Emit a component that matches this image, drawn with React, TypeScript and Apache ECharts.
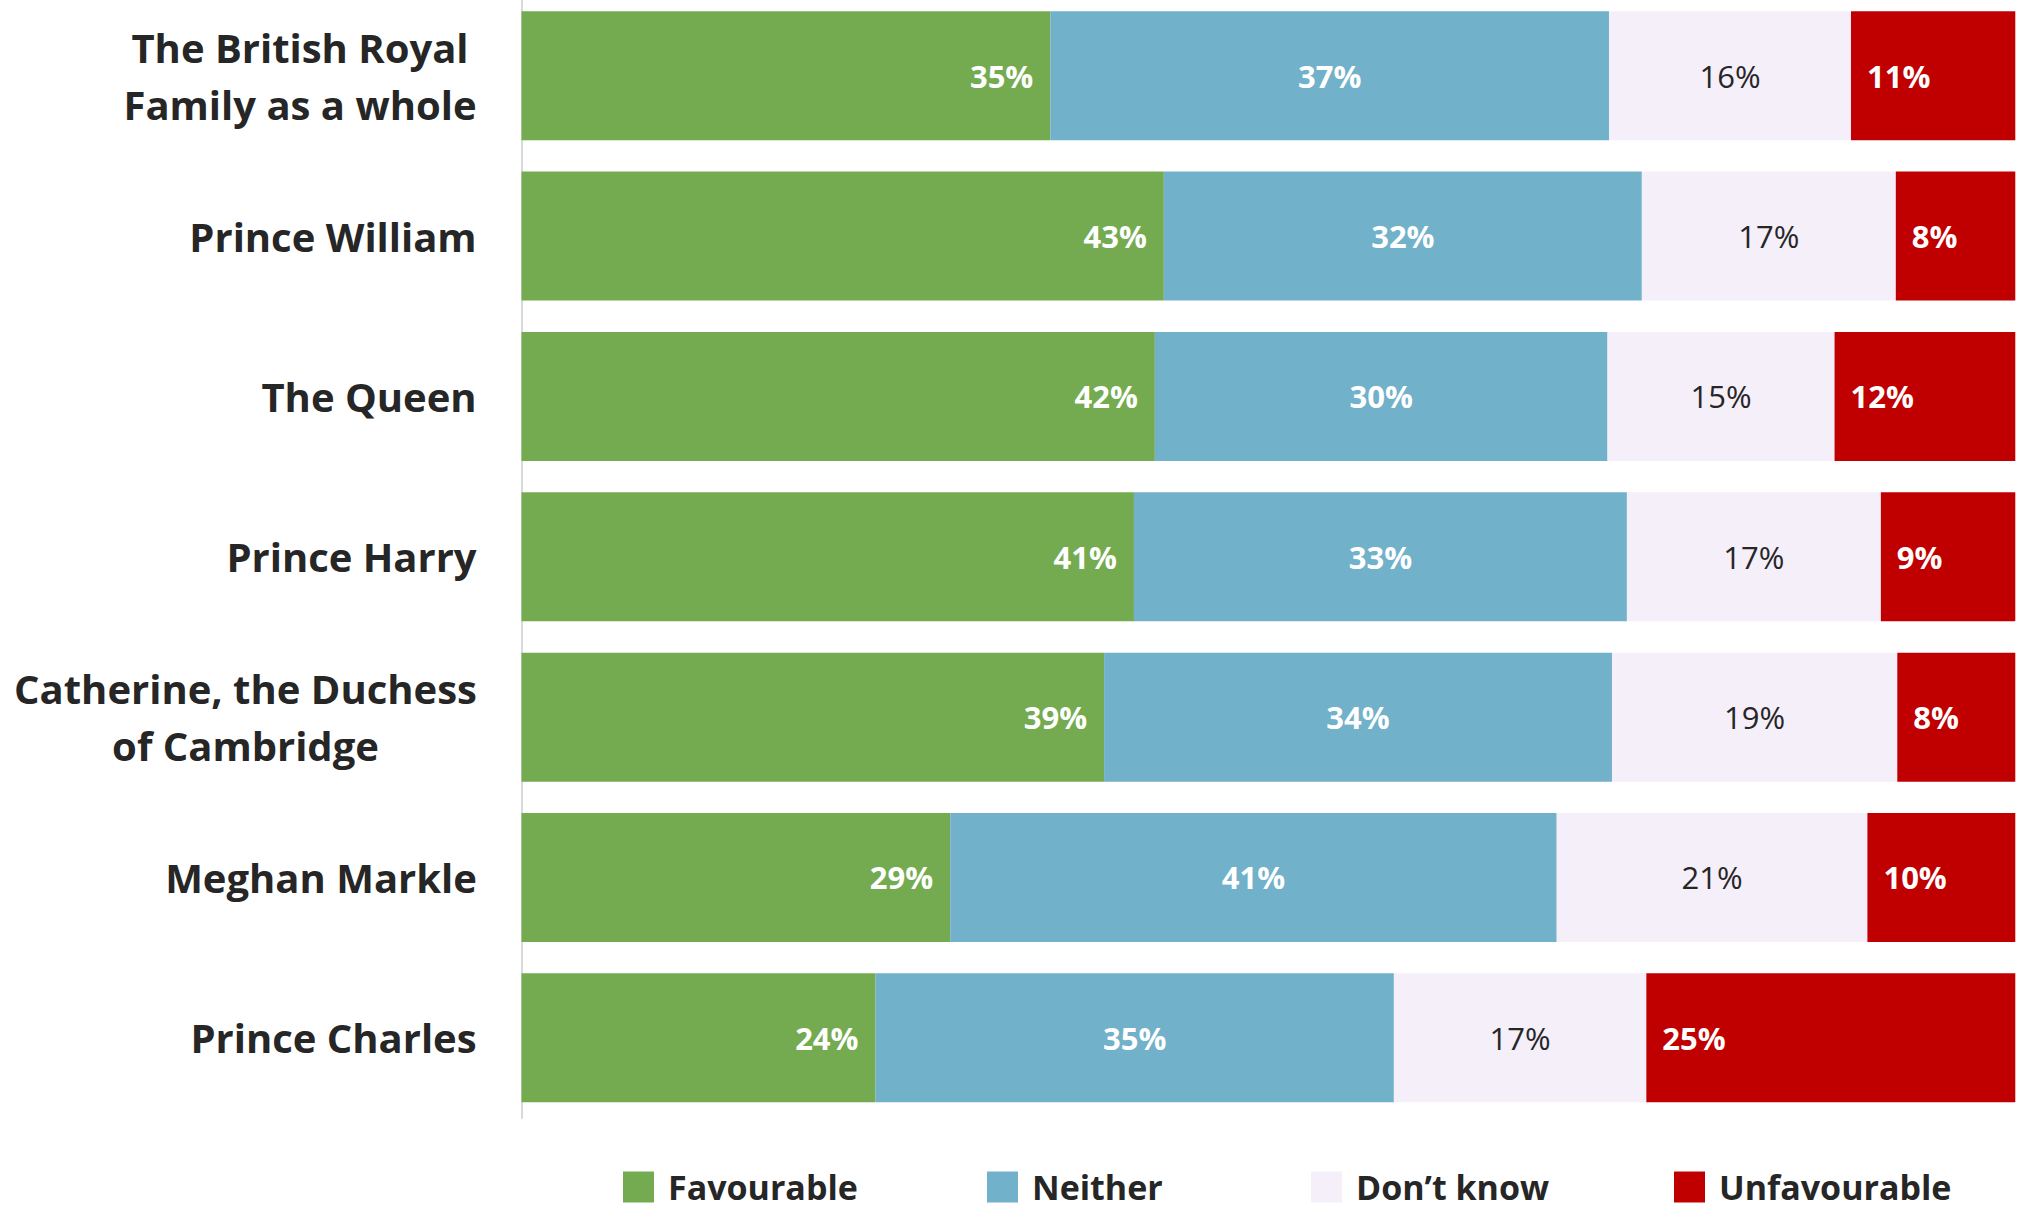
import React, { useEffect, useRef } from "react";
import * as echarts from "echarts";

const categories = [
  "The British Royal\nFamily as a whole",
  "Prince William",
  "The Queen",
  "Prince Harry",
  "Catherine, the Duchess\nof Cambridge",
  "Meghan Markle",
  "Prince Charles",
];
const seriesNames = ["Favourable", "Neither", "Don\u2019t know", "Unfavourable"];
const favourable = [35.4, 43.0, 42.4, 41.0, 39.0, 28.7, 23.7];
const neither = [37.4, 32.0, 30.3, 33.0, 34.0, 40.6, 34.7];
const dontKnow = [16.2, 17.0, 15.2, 17.0, 19.1, 20.8, 16.9];
const unfavourable = [11.0, 8.0, 12.1, 9.0, 7.9, 9.9, 24.7];

const FONT = '"Open Sans", "Noto Sans", sans-serif';
const DARK = "#262626";
const CAT_SIZE = 40;

export default function App() {
  const ref = useRef<HTMLDivElement>(null);
  useEffect(() => {
    document.body.style.margin = "0";
    document.body.style.overflow = "hidden";
    if (!ref.current) return;
    const chart = echarts.init(ref.current, undefined, { renderer: "svg" });

    // measure widest line of each category label to centre lines inside the block
    const canvas = document.createElement("canvas");
    const ctx = canvas.getContext("2d")!;
    ctx.font = `bold ${CAT_SIZE}px ${FONT}`;
    const rich: Record<string, any> = {};
    categories.forEach((c, i) => {
      const w = Math.max(...c.split("\n").map((l) => ctx.measureText(l).width));
      rich["l" + i] = {
        width: Math.ceil(w) + 1,
        align: "center",
        fontSize: CAT_SIZE,
        fontWeight: "bold",
        fontFamily: FONT,
        color: DARK,
        lineHeight: 57,
      };
    });

    const colors = ["#75AB50", "#71B1C9", "#F5EFFA", "#C00000"];
    const dataArr = [favourable, neither, dontKnow, unfavourable];
    const labelCfg = [
      { position: "insideRight", distance: 17, color: "#ffffff", fontWeight: "bold" },
      { position: "inside", color: "#ffffff", fontWeight: "bold" },
      { position: "inside", color: DARK, fontWeight: "normal" },
      { position: "insideLeft", distance: 16, color: "#ffffff", fontWeight: "bold" },
    ];
    const legendLeft = [623, 987, 1311, 1674];

    chart.setOption({
      animation: false,
      grid: {
        left: 521.5,
        right: 12.7,
        top: -4.4,
        height: 1122.4,
        outerBoundsMode: "none",
      },
      xAxis: { type: "value", min: 0, max: 100, show: false },
      yAxis: {
        type: "category",
        data: categories,
        inverse: true,
        axisTick: { show: false },
        axisLine: { show: true, lineStyle: { color: "#d9d9d9", width: 2 } },
        axisLabel: {
          margin: 44,
          formatter: (v: string, i: number) =>
            v.split("\n").map((l) => `{l${i}|${l}}`).join("\n"),
          rich,
        },
      },
      legend: seriesNames.map((n, i) => ({
        data: [n],
        left: legendLeft[i],
        top: 1170,
        padding: 0,
        icon: "rect",
        itemWidth: 31,
        itemHeight: 31,
        textStyle: {
          fontSize: 34,
          lineHeight: 31,
          fontWeight: "bold",
          fontFamily: FONT,
          color: DARK,
          padding: [0, 0, 0, 9],
        },
      })),
      series: seriesNames.map((n, i) => ({
        name: n,
        type: "bar",
        stack: "total",
        barWidth: 129,
        data: dataArr[i],
        itemStyle: { color: colors[i] },
        label: {
          show: true,
          ...labelCfg[i],
          fontSize: 31,
          fontFamily: FONT,
          formatter: (p: any) => Math.round(p.value) + "%",
        },
      })),
    });
    return () => chart.dispose();
  }, []);
  return <div ref={ref} style={{ width: 2028, height: 1209 }} />;
}
